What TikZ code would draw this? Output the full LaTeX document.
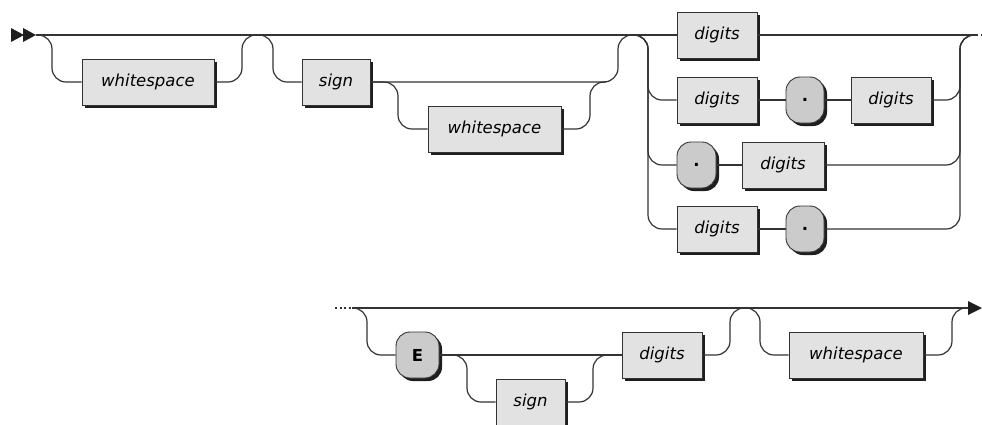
\documentclass[tikz,border=0pt]{standalone}
\usepackage{fontspec}
\setmainfont{DejaVu Sans}
\usetikzlibrary{shadows}
\definecolor{boxfill}{HTML}{E2E2E2}
\definecolor{pillfill}{HTML}{CBCBCB}
\definecolor{edge}{HTML}{333333}
\definecolor{shadowcol}{HTML}{1E1E1E}
\tikzset{
  nt/.style={draw=edge, line width=0.9pt, fill=boxfill, minimum height=46pt, inner sep=0pt,
    font=\fontsize{16.5}{20}\selectfont\itshape,
    drop shadow={shadow xshift=3pt, shadow yshift=-3pt, fill=shadowcol, opacity=1}},
  tm/.style={draw=edge, line width=0.9pt, fill=pillfill, rounded corners=14pt, minimum height=46pt, inner sep=0pt,
    font=\fontsize{16.5}{20}\selectfont\bfseries,
    drop shadow={shadow xshift=3pt, shadow yshift=-3pt, fill=shadowcol, opacity=1}},
  rail/.style={draw=edge, line width=1.2pt, rounded corners=14pt},
  dotsline/.style={draw=edge, line width=1.2pt, dash pattern=on 2pt off 2.5pt},
  tip/.style={fill=shadowcol},
}
\begin{document}
\begin{tikzpicture}[x=1pt, y=-1pt]
\useasboundingbox (0,0) rectangle (982,424);
% ---- nodes, row 1
\node[nt, minimum width=132pt] (ws1) at (148,82) {whitespace};
\node[nt, minimum width=68pt] (sign1) at (336,82) {sign};
\node[nt, minimum width=133pt] (ws2) at (494.5,129) {whitespace};
\node[nt, minimum width=80pt] (d1) at (717,35) {digits};
\node[nt, minimum width=80pt] (d2a) at (717,100) {digits};
\node[tm, minimum width=38pt] (p2) at (805,100) {.};
\node[nt, minimum width=80pt] (d2b) at (891,100) {digits};
\node[tm, minimum width=39pt] (p3) at (696.5,165) {.};
\node[nt, minimum width=82pt] (d3) at (783,165) {digits};
\node[nt, minimum width=80pt] (d4) at (717,229) {digits};
\node[tm, minimum width=38pt] (p4) at (805,229) {.};
% ---- nodes, row 2
\node[tm, minimum width=43pt] (E) at (417.5,355) {E};
\node[nt, minimum width=69pt] (sg) at (530.5,402) {sign};
\node[nt, minimum width=80pt] (dg) at (662,355) {digits};
\node[nt, minimum width=134pt] (ws3) at (856,355) {whitespace};
% ---- coordinates
\coordinate (s0) at (36,35);
\coordinate (c1) at (976,35);
\coordinate (c0) at (352,308);
\coordinate (e0) at (968,308);
% ---- start marker
\fill[tip] (11,28) -- (24,35) -- (11,42) -- cycle;
\fill[tip] (23,28) -- (36,35) -- (23,42) -- cycle;
% ---- row 1 rails
\draw[rail] (s0) -- (d1.west);
\draw[rail] (d1.east) -- (c1);
\draw[dotsline] (c1) -- (982,35);
\draw[rail] (s0) -| (52,82) -- (ws1.west);
\draw[rail] (ws1.east) -| (242,35) -- (258,35);
\draw[rail] (256,35) -| (273,82) -- (sign1.west);
\draw[rail] (sign1.east) -| (618,35) -- (640,35);
\draw[rail] (sign1.east) -| (398,129) -- (ws2.west);
\draw[rail] (ws2.east) -| (590,82) -- (606,82);
% choice
\draw[rail] (620,35) -| (648,100) -- (d2a.west);
\draw[rail] (620,35) -| (648,165) -- (p3.west);
\draw[rail] (620,35) -| (648,229) -- (d4.west);
\draw[rail] (d2a.east) -- (p2.west);
\draw[rail] (p2.east) -- (d2b.west);
\draw[rail] (p3.east) -- (d3.west);
\draw[rail] (d4.east) -- (p4.west);
\draw[rail] (d2b.east) -| (960,35) -- (c1);
\draw[rail] (d3.east) -| (960,35) -- (c1);
\draw[rail] (p4.east) -| (960,35) -- (c1);
% ---- row 2 rails
\draw[dotsline] (335,308) -- (c0);
\draw[rail] (c0) -- (e0);
\draw[rail] (c0) -| (367,355) -- (E.west);
\draw[rail] (E.east) -- (dg.west);
\draw[rail] (E.east) -| (467,402) -- (sg.west);
\draw[rail] (sg.east) -| (593,355) -- (dg.west);
\draw[rail] (dg.east) -| (730,308) -- (750,308);
\draw[rail] (740,308) -| (760,355) -- (ws3.west);
\draw[rail] (ws3.east) -| (952,308) -- (e0);
\fill[tip] (e0) ++(0,-7) -- (982,308) -- (968,315) -- cycle;
\end{tikzpicture}
\end{document}
